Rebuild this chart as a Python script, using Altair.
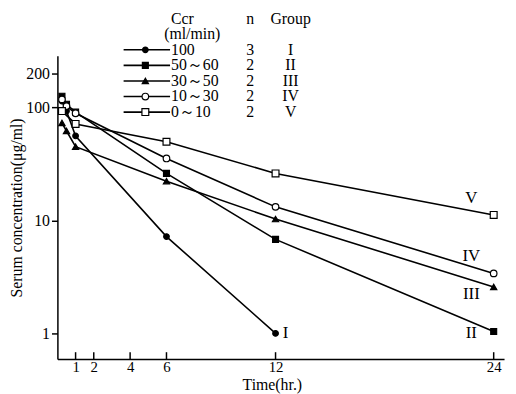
import altair as alt
import pandas as pd

# ---------------- data ----------------
groups = ["I", "II", "III", "IV", "V"]
ccr_labels = ["100", "50～60", "30～50", "10～30", "\u00a0\u00a00～10"]
n_values = ["3", "2", "2", "2", "2"]

t_I = [0.25, 0.5, 1, 6, 12]
c_I = [114, 93, 56, 7.2, 1.0]
t_II = [0.25, 0.5, 1, 6, 12, 24]
c_II = [126, 107, 91, 26.1, 6.8, 1.04]
t_III = [0.25, 0.5, 1, 6, 12, 24]
c_III = [73, 62, 45, 22.3, 10.3, 2.58]
t_IV = [0.25, 0.5, 1, 6, 12, 24]
c_IV = [118, 103, 89, 35.4, 13.2, 3.4]
t_V = [0.25, 1, 6, 12, 24]
c_V = [93, 71.6, 49.8, 26.1, 11.2]

label_t = [12.55, 22.77, 22.77, 22.77, 22.77]
label_c = [1.0, 1.0, 2.24, 4.8, 15.8]

x_ticks = [1, 2, 4, 6, 12, 24]
y_ticks = [1, 10, 100, 200]

header_texts = ["Ccr", "(ml/min)", "n", "Group"]
header_rows = [-2, -1, -2, -2]

# ---------------- tables ----------------
rows = []
for g, ts, cs in zip(groups, [t_I, t_II, t_III, t_IV, t_V], [c_I, c_II, c_III, c_IV, c_V]):
    for t, c in zip(ts, cs):
        rows.append({"group": g, "t": t, "c": c})
df = pd.DataFrame(rows)
df_lab = pd.DataFrame({"group": groups, "t": label_t, "c": label_c})
df_xt = pd.DataFrame({"t": x_ticks})
df_leg = pd.DataFrame({"group": groups, "label": ccr_labels, "n": n_values,
                       "row": list(range(len(groups)))})
df_head = pd.DataFrame({"text": header_texts, "row": header_rows})

FONT = "'Liberation Serif', 'DejaVu Serif', serif"

xsc = alt.Scale(domain=[0, 24.57], nice=False, zero=False)
ysc = alt.Scale(type="log", domain=[0.592, 287.4], nice=False)
shape_sc = alt.Scale(domain=groups, range=["circle", "square", "triangle-up", "circle", "square"])
fill_sc = alt.Scale(domain=groups, range=["black", "black", "black", "white", "white"])
size_sc = alt.Scale(domain=groups, range=[32, 48, 45, 42, 52])

X = alt.X("t:Q", scale=xsc,
          axis=alt.Axis(values=x_ticks, title="Time(hr.)", ticks=False,
                        labelPadding=1, format="d", labelFontSize=15,
                        titleX=217, titleY=31, titleBaseline="alphabetic", titleFontSize=16))
Y = alt.Y("c:Q", scale=ysc,
          axis=alt.Axis(values=y_ticks, title="Serum concentration(μg/ml)", tickSize=6,
                        labelPadding=2, format="d", labelFontSize=16,
                        titleX=-41, titleBaseline="middle", titleFontSize=16))

lines = alt.Chart(df).mark_line(color="black", strokeWidth=1.6).encode(
    x=X, y=Y, detail="group:N")
points = alt.Chart(df).mark_point(filled=True, stroke="black", strokeWidth=1.2, opacity=1).encode(
    x=X, y=Y,
    shape=alt.Shape("group:N", scale=shape_sc, legend=None),
    fill=alt.Fill("group:N", scale=fill_sc, legend=None),
    size=alt.Size("group:N", scale=size_sc, legend=None))
labels = alt.Chart(df_lab).mark_text(font=FONT, fontSize=17, align="center",
                                     baseline="middle", color="black").encode(
    x=X, y=Y, text="group:N")
xt = alt.Chart(df_xt).mark_rule(color="black", strokeWidth=1.5).encode(
    x=alt.X("t:Q", scale=xsc), y=alt.value(300), y2=alt.value(307))

main = alt.layer(lines, points, labels, xt)

LY = alt.Y("row:Q", scale=alt.Scale(domain=[0, 4], range=[-6, 57]), axis=None)
leg_rule = alt.Chart(df_leg).mark_rule(color="black", strokeWidth=1.6).encode(
    y=LY, x=alt.value(67), x2=alt.value(114))
leg_pts = alt.Chart(df_leg).mark_point(filled=True, stroke="black", strokeWidth=1.2, opacity=1).encode(
    y=LY, x=alt.value(89),
    shape=alt.Shape("group:N", scale=shape_sc, legend=None),
    fill=alt.Fill("group:N", scale=fill_sc, legend=None),
    size=alt.Size("group:N", scale=size_sc, legend=None))
txt = dict(font=FONT, fontSize=16, baseline="middle", color="black")
leg_lab = alt.Chart(df_leg).mark_text(align="left", **txt).encode(
    y=LY, x=alt.value(115), text="label:N")
leg_n = alt.Chart(df_leg).mark_text(align="center", **txt).encode(
    y=LY, x=alt.value(195), text="n:N")
leg_g = alt.Chart(df_leg).mark_text(align="center", **txt).encode(
    y=LY, x=alt.value(236), text="group:N")
head_ccr = alt.Chart(df_head).transform_filter(alt.datum.text == "Ccr").mark_text(align="left", **txt).encode(
    y=LY, x=alt.value(115), text="text:N")
head_unit = alt.Chart(df_head).transform_filter(alt.datum.text == "(ml/min)").mark_text(align="left", **txt).encode(
    y=LY, x=alt.value(108), text="text:N")
head_n = alt.Chart(df_head).transform_filter(alt.datum.text == "n").mark_text(align="center", **txt).encode(
    y=LY, x=alt.value(195), text="text:N")
head_g = alt.Chart(df_head).transform_filter(alt.datum.text == "Group").mark_text(align="center", **txt).encode(
    y=LY, x=alt.value(236), text="text:N")

legend = alt.layer(leg_rule, leg_pts, leg_lab, leg_n, leg_g, head_ccr, head_unit, head_n, head_g)

chart = alt.layer(main, legend).resolve_scale(y="independent").properties(
    width=452, height=307,
    autosize=alt.AutoSizeParams(type="none"),
    padding={"left": 50, "top": 46, "right": 4, "bottom": 36},
).configure_view(stroke=None).configure_axis(
    grid=False, domainColor="black", domainWidth=1.5, tickColor="black", tickWidth=1.5,
    labelColor="black", titleColor="black", labelFont=FONT, titleFont=FONT,
    titleFontWeight="normal",
)

chart.save("out.html", embed_options={"renderer": "svg", "actions": False})
